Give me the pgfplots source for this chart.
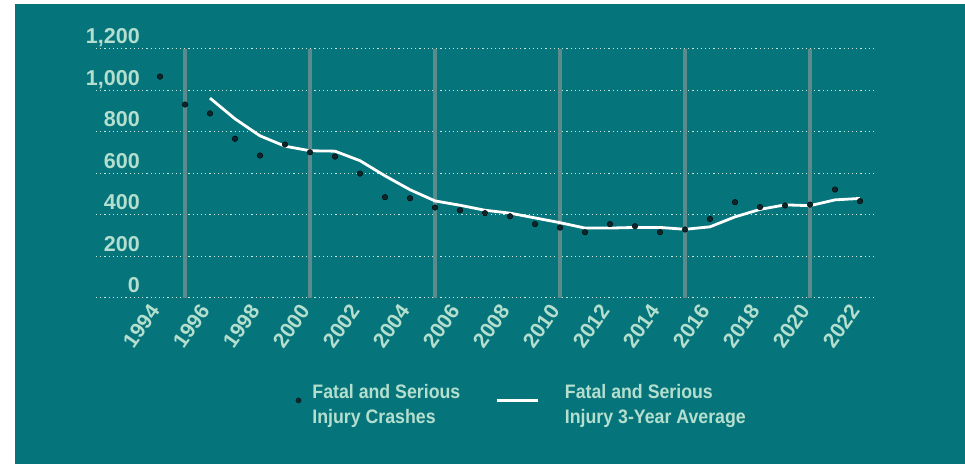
\documentclass[border=0pt]{standalone}
\usepackage{fontspec}
\setmainfont{Liberation Sans}
\newfontfamily\legfont{Liberation Sans}[FakeStretch=0.91]
\usepackage{pgfplots}
\pgfplotsset{compat=1.18}
\definecolor{bgteal}{RGB}{6,116,123}
\definecolor{mint}{RGB}{180,223,207}
\definecolor{dotcol}{RGB}{12,38,44}
\definecolor{barcol}{RGB}{92,139,141}
\definecolor{gridcol}{RGB}{200,230,220}
\begin{document}
\begin{tikzpicture}
\useasboundingbox (0,0) rectangle (965bp,464bp);
\fill[white] (0,0) rectangle (965bp,464bp);
\fill[bgteal] (15bp,0) rectangle (965bp,460bp);
\begin{axis}[
  at={(96bp,166.3bp)}, anchor=south west,
  scale only axis, width=779bp, height=248.7bp,
  xmin=1991.44, xmax=2022.6, ymin=0, ymax=1200,
  axis line style={draw=none},
  major tick length=0pt,
  xtick={1994,1996,...,2022},
  ytick={0,200,...,1200},
  ymajorgrids,
  major grid style={draw=gridcol, line width=1bp, dash pattern=on 1.1bp off 3.1bp},
  extra x ticks={1995,2000,2005,2010,2015,2020},
  extra x tick labels={},
  extra x tick style={xmajorgrids=true, major grid style={draw=barcol, line width=4bp, solid}},
  /pgf/number format/assume math mode=true,
  xticklabel style={/pgf/number format/1000 sep={}, font=\fontsize{21bp}{24bp}\selectfont\bfseries, text=mint, xshift=-11.6bp, rotate=55, anchor=north east, inner sep=0pt},
  xticklabel shift=4.7bp,
  yticklabel style={/pgf/number format/1000 sep={,}, font=\fontsize{21.5bp}{25bp}\selectfont\bfseries, text=mint, anchor=base east, inner sep=0pt, xshift=44bp, yshift=5bp},
  legend columns=2,
  legend cell align=left,
  legend style={at={(0.256,-0.399)}, anchor=west, draw=none, fill=none, inner sep=0pt,
    font=\legfont\bfseries\fontsize{19.5bp}{25bp}\selectfont, text=mint,
    nodes={inner sep=0pt},
    /tikz/every odd column/.append style={column sep=11bp},
    /tikz/every even column/.append style={column sep=35bp}},
]
\addlegendimage{legend image code/.code={\fill[dotcol] (2.7bp,-3.5bp) circle (2.7bp);}}
\addlegendentry{\begin{tabular}{@{}l@{}}Fatal and Serious\\Injury Crashes\end{tabular}}
\addlegendimage{legend image code/.code={\draw[white, line width=2.8bp] (0,-3.5bp) -- (41bp,-3.5bp); \path (57bp,-3.5bp);}}
\addlegendentry{\begin{tabular}{@{}l@{}}Fatal and Serious\\Injury 3-Year Average\end{tabular}}

\addplot[forget plot, white, line width=2.8bp, no marks, line join=round] coordinates {
(1996,963) (1997,863) (1998,781) (1999,731) (2000,709) (2001,707) (2002,661)
(2003,588) (2004,521) (2005,467) (2006,446) (2007,422) (2008,408) (2009,385)
(2010,362) (2011,336) (2012,336) (2013,339) (2014,339) (2015,330) (2016,342)
(2017,390) (2018,426) (2019,448) (2020,444) (2021,472) (2022,479)
};
\addplot[forget plot, only marks, mark=*, mark size=2.8bp, mark options={draw=none, fill=dotcol}] coordinates {
(1994,1067) (1995,932) (1996,889) (1997,767) (1998,686) (1999,739) (2000,702)
(2001,681) (2002,599) (2003,485) (2004,480) (2005,435) (2006,422) (2007,408)
(2008,393) (2009,355) (2010,338) (2011,316) (2012,355) (2013,345) (2014,316)
(2015,329) (2016,380) (2017,461) (2018,437) (2019,445) (2020,449) (2021,522)
(2022,466)
};
\end{axis}
\end{tikzpicture}
\end{document}
